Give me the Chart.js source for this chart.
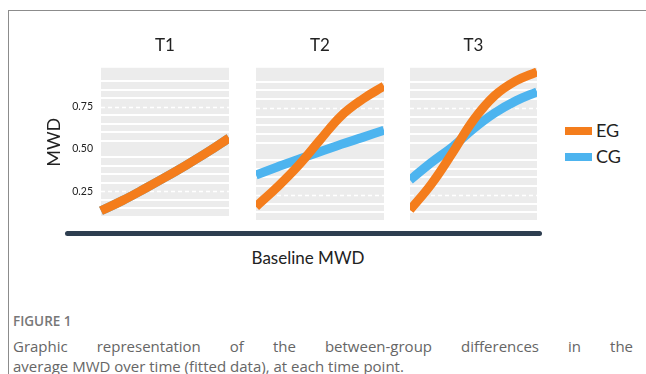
<!DOCTYPE html>
<html>
<head>
<meta charset="utf-8">
<script src="https://cdn.jsdelivr.net/npm/chart.js@4.4.0/dist/chart.umd.min.js"></script>
<style>
  body { margin: 0; width: 646px; height: 374px; overflow: hidden; background: #fff; position: relative; font-family: Lato, sans-serif; }
  .frame { position: absolute; left: 8px; top: 10px; right: -2px; bottom: -2px; border-left: 1px solid #8c8c8c; border-top: 1px solid #8c8c8c; }
  .panel { position: absolute; top: 30px; }
  .legend { position: absolute; left: 565px; font-size: 18px; color: #222; line-height: 20px; }
  .legend span { display: inline-block; width: 27px; height: 8px; vertical-align: middle; margin-right: 4px; position: relative; top: -1px; }
  .axisbar { position: absolute; left: 65px; top: 231px; width: 477px; height: 5px; background: #2e3e50; border-radius: 3px; }
  .xtitle { position: absolute; left: 208px; width: 200px; top: 247px; text-align: center; font-size: 17px; color: #222; }
  .fig { position: absolute; left: 13px; top: 312px; font-family: "Open Sans", sans-serif; font-size: 13.5px; font-weight: 600; color: #777; }
  .cap { position: absolute; left: 13px; width: 620px; font-family: "Open Sans", sans-serif; font-size: 15px; line-height: 20px; color: #666; white-space: nowrap; }
  .cap.just { text-align: justify; text-align-last: justify; white-space: normal; }
</style>
</head>
<body>
<div class="frame"></div>
<canvas id="p1" class="panel" width="189" height="201" style="left:40px"></canvas>
<canvas id="p2" class="panel" width="128" height="201" style="left:256px"></canvas>
<canvas id="p3" class="panel" width="127" height="201" style="left:410px"></canvas>
<div class="legend" style="top:120px"><span style="background:#f47d1c"></span>EG</div>
<div class="legend" style="top:146px"><span style="background:#4db4ef"></span>CG</div>
<div class="axisbar"></div>
<div class="xtitle">Baseline MWD</div>
<div class="fig">FIGURE 1</div>
<div class="cap just" style="top:336px">Graphic representation of the between-group differences in the</div>
<div class="cap" style="top:356px">average MWD over time (fitted data), at each time point.</div>
<script>
// baseline MWD positions along each panel (fitted curves)
const xPoints = [0, 1, 2, 3, 4, 5, 6];
const panelTitles = ['T1', 'T2', 'T3'];

const egT1 = [0.135, 0.195, 0.262, 0.332, 0.405, 0.482, 0.565];
const cgT1 = [0.135, 0.195, 0.262, 0.332, 0.405, 0.482, 0.565];
const egT2 = [0.182, 0.295, 0.420, 0.565, 0.705, 0.800, 0.875];
const cgT2 = [0.364, 0.410, 0.455, 0.497, 0.540, 0.580, 0.621];
const egT3 = [0.163, 0.310, 0.490, 0.680, 0.820, 0.905, 0.957];
const cgT3 = [0.335, 0.435, 0.525, 0.630, 0.720, 0.790, 0.842];

const yTickLabels = [0.25, 0.5, 0.75];
const dashedLines = [0.25, 0.75];

const EG_COLOR = '#f47d1c';
const CG_COLOR = '#4db4ef';
const BAND = '#ececec';

const egSeries = [egT1, egT2, egT3];
const cgSeries = [cgT1, cgT2, cgT3];

const isLabel = v => yTickLabels.some(t => Math.abs(t - v) < 1e-6);

// gray background with white gaps, dashed gaps at 0.25 / 0.75
const bandPlugin = {
    id: 'bands',
    beforeDraw(chart) {
        const a = chart.chartArea;
        const ctx = chart.ctx;
        ctx.save();
        ctx.fillStyle = BAND;
        ctx.fillRect(a.left, a.top, a.right - a.left, a.bottom - a.top);
        ctx.restore();
    },
    beforeDatasetsDraw(chart) {
        const a = chart.chartArea;
        const ctx = chart.ctx;
        const y = chart.scales.y;
        ctx.save();
        ctx.strokeStyle = '#fff';
        ctx.lineWidth = 1.5;
        ctx.setLineDash([4, 3]);
        dashedLines.forEach(v => {
            const py = Math.round(y.getPixelForValue(v)) + 0.5;
            ctx.beginPath();
            ctx.moveTo(a.left, py);
            ctx.lineTo(a.right, py);
            ctx.stroke();
        });
        ctx.restore();
    }
};

const makePanel = (id, i) => {
    const first = i === 0;
    return new Chart(document.getElementById(id), {
        type: 'line',
        data: {
            labels: xPoints,
            datasets: [
                { label: 'EG', data: egSeries[i], borderColor: EG_COLOR, borderWidth: 9 },
                { label: 'CG', data: cgSeries[i], borderColor: CG_COLOR, borderWidth: 9 }
            ]
        },
        options: {
            responsive: false,
            animation: false,
            events: [],
            layout: { padding: { top: 0, bottom: 10.1, left: 0, right: 0 } },
            elements: {
                point: { radius: 0 },
                line: { tension: 0.4, borderCapStyle: 'butt' }
            },
            plugins: {
                legend: { display: false },
                tooltip: { enabled: false },
                title: {
                    display: true,
                    text: panelTitles[i],
                    fullSize: false,
                    color: '#222',
                    font: { family: 'Lato', size: 17, weight: 'normal' },
                    padding: { top: 5, bottom: 12.4 }
                }
            },
            scales: {
                x: { type: 'category', offset: false, display: false },
                y: {
                    min: 0.1,
                    max: 0.98,
                    afterBuildTicks: s => {
                        s.ticks = s.ticks.filter(t => Math.abs(t.value * 20 - Math.round(t.value * 20)) < 1e-6);
                    },
                    afterFit: s => { s.width = first ? 61 : 0; },
                    border: { display: false },
                    grid: {
                        drawTicks: false,
                        lineWidth: 2,
                        color: c => (c.tick && isLabel(c.tick.value)) ? BAND : '#fff'
                    },
                    ticks: {
                        display: first,
                        autoSkip: false,
                        stepSize: 0.05,
                        padding: 8,
                        color: '#222',
                        font: { family: 'Lato', size: 10.5 },
                        callback: v => isLabel(v) ? v.toFixed(2) : ''
                    },
                    title: {
                        display: first,
                        text: 'MWD',
                        color: '#222',
                        font: { family: 'Lato', size: 18 },
                        padding: { top: 3, bottom: 0 }
                    }
                }
            }
        },
        plugins: [bandPlugin]
    });
};

makePanel('p1', 0);
makePanel('p2', 1);
makePanel('p3', 2);
</script>
</body>
</html>
